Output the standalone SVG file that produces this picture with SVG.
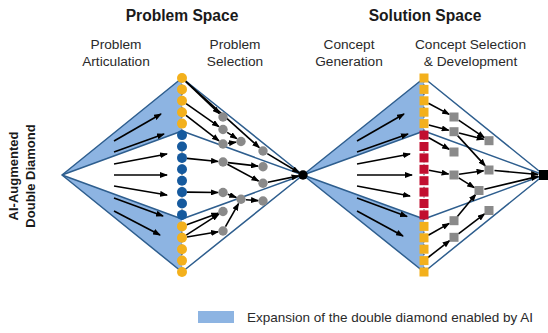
<svg xmlns="http://www.w3.org/2000/svg" width="548" height="333" viewBox="0 0 548 333">
<defs>
<style>
text{font-family:"Liberation Sans",Arial,sans-serif;fill:#1a1a1a}
.h{font-size:15.6px;font-weight:bold;text-anchor:middle}
.s{font-size:13.7px;text-anchor:middle;fill:#2a2a2a}
.v{font-size:13px;font-weight:bold;text-anchor:middle}
.lg{font-size:13.5px;fill:#2a2a2a}
.fill{fill:#8db4e2;stroke:none}
.edge{fill:none;stroke:#2e5e8e;stroke-width:1.5;stroke-linejoin:round}
.ar{fill:none;stroke:#000;stroke-width:1.6;marker-end:url(#ah)}
.y{fill:#f3b01c}
.b{fill:#165a9e}
.r{fill:#c20f2f}
.g{fill:#8a8a8a}
.col{stroke:#333;stroke-width:1;stroke-dasharray:1.2 2}
</style>
<marker id="ah" markerWidth="8" markerHeight="6" refX="7" refY="3" orient="auto" markerUnits="userSpaceOnUse"><path d="M0,0 L8,3 L0,6 z" fill="#000"/></marker>
</defs>

<g id="titles">
<text class="h" x="182" y="21">Problem Space</text>
<text class="h" x="425" y="21">Solution Space</text>
<text class="s" x="116" y="49">Problem</text>
<text class="s" x="116" y="65.5">Articulation</text>
<text class="s" x="235" y="49">Problem</text>
<text class="s" x="235" y="65.5">Selection</text>
<text class="s" x="349" y="49">Concept</text>
<text class="s" x="349" y="65.5">Generation</text>
<text class="s" x="470.5" y="49">Concept Selection</text>
<text class="s" x="470.5" y="65.5">&amp; Development</text>
<text class="v" transform="translate(18.3,176) rotate(-90)">AI-Augmented</text>
<text class="v" transform="translate(35,176) rotate(-90)">Double Diamond</text>
</g>

<g id="diamond1">
<polygon class="fill" points="62,175 182,78 182,131"/>
<polygon class="fill" points="62,175 182,272 182,219"/>
<polygon class="edge" points="62,175 182,78 303,175 182,272"/>
<polyline class="edge" points="62,175 182,131 303,175"/>
<polyline class="edge" points="62,175 182,219 303,175"/>
</g>
<g id="diamond2">
<polygon class="fill" points="303,175 424,78 424,131"/>
<polygon class="fill" points="303,175 424,272 424,219"/>
<polygon class="edge" points="303,175 424,78 544,175 424,272"/>
<polyline class="edge" points="303,175 424,131 544,175"/>
<polyline class="edge" points="303,175 424,219 544,175"/>
</g>

<g id="connectors">
<path class="ar" d="M114,141 L161,114"/>
<path class="ar" d="M114,152 L164,134"/>
<path class="ar" d="M114,164 L167,154"/>
<path class="ar" d="M114,175 L167,175"/>
<path class="ar" d="M114,186 L167,195"/>
<path class="ar" d="M114,198 L163,216"/>
<path class="ar" d="M114,211 L160,235"/>

<path class="ar" d="M357,141 L404,114"/>
<path class="ar" d="M357,152 L408,134"/>
<path class="ar" d="M357,164 L410,154"/>
<path class="ar" d="M357,175 L412,175"/>
<path class="ar" d="M357,186 L410,196"/>
<path class="ar" d="M357,198 L407,216.5"/>
<path class="ar" d="M357,211 L403,236"/>

<path class="ar" d="M185.6,81.4 L219.4,113.6"/>
<path class="ar" d="M185.7,81.3 L259.3,147.6"/>
<path class="ar" d="M186.1,103.7 L218.9,126.6"/>
<path class="ar" d="M186,115.3 L219,140.9"/>
<path class="ar" d="M227.2,132.3 L236.8,138.7"/>
<path class="ar" d="M228,143.3 L236,142.2"/>
<path class="ar" d="M267.3,153.6 L299.1,172.7"/>
<path class="ar" d="M187,158.4 L218,161.5"/>
<path class="ar" d="M228,162.6 L258,166.1"/>
<path class="ar" d="M227.4,164.3 L258.6,181"/>
<path class="ar" d="M267.9,182.3 L298.6,175.9"/>
<path class="ar" d="M187,192.1 L218,192.5"/>
<path class="ar" d="M227.7,194.3 L236.3,197.5"/>
<path class="ar" d="M246,199.7 L258,200.6"/>
<path class="ar" d="M186.7,224.7 L218.3,213.2"/>
<path class="ar" d="M186.2,235.1 L218.8,214.2"/>
<path class="ar" d="M187,237 L218,231.8"/>
<path class="ar" d="M225.5,226.7 L238.5,203.6"/>

<path class="ar" d="M428.4,103.2 L449.2,114.4"/>
<path class="ar" d="M428.8,124.9 L448.7,130.3"/>
<path class="ar" d="M428.4,137.5 L449.2,149.3"/>
<path class="ar" d="M458.6,120.1 L484.4,137.6"/>
<path class="ar" d="M459,133 L483.7,139.3"/>
<path class="ar" d="M457.4,135.4 L485.3,165.9"/>
<path class="ar" d="M429,170.2 L448.6,174"/>
<path class="ar" d="M459,174.3 L483.6,170.8"/>
<path class="ar" d="M458.7,177.9 L474.3,187.6"/>
<path class="ar" d="M494.5,170.5 L538,174.5"/>
<path class="ar" d="M484.4,189.2 L538.2,176.4"/>
<path class="ar" d="M457.2,216.8 L475.8,194.3"/>
<path class="ar" d="M458.4,233.9 L484.6,213.9"/>
<path class="ar" d="M428.3,235.3 L449.2,223.4"/>
<path class="ar" d="M428,257.5 L449.7,240.6"/>
</g>

<g id="column1">
<line class="col" x1="182" y1="78" x2="182" y2="272"/>
<circle class="y" cx="182" cy="78" r="5"/>
<circle class="y" cx="182" cy="89.4" r="5"/>
<circle class="y" cx="182" cy="100.8" r="5"/>
<circle class="y" cx="182" cy="112.2" r="5"/>
<circle class="y" cx="182" cy="123.6" r="5"/>
<circle class="b" cx="182" cy="135.1" r="5"/>
<circle class="b" cx="182" cy="146.5" r="5"/>
<circle class="b" cx="182" cy="157.9" r="5"/>
<circle class="b" cx="182" cy="169.3" r="5"/>
<circle class="b" cx="182" cy="180.7" r="5"/>
<circle class="b" cx="182" cy="192.1" r="5"/>
<circle class="b" cx="182" cy="203.5" r="5"/>
<circle class="b" cx="182" cy="214.9" r="5"/>
<circle class="y" cx="182" cy="226.4" r="5"/>
<circle class="y" cx="182" cy="237.8" r="5"/>
<circle class="y" cx="182" cy="249.2" r="5"/>
<circle class="y" cx="182" cy="260.6" r="5"/>
<circle class="y" cx="182" cy="272" r="5"/>
</g>

<g id="selection1">
<circle class="g" cx="223" cy="117" r="4.7"/>
<circle class="g" cx="223" cy="129.5" r="4.7"/>
<circle class="g" cx="223" cy="144" r="4.7"/>
<circle class="g" cx="241" cy="141.5" r="4.7"/>
<circle class="g" cx="263" cy="151" r="4.7"/>
<circle class="g" cx="223" cy="162" r="4.7"/>
<circle class="g" cx="263" cy="166.7" r="4.7"/>
<circle class="g" cx="263" cy="183.3" r="4.7"/>
<circle class="g" cx="223" cy="192.5" r="4.7"/>
<circle class="g" cx="241" cy="199.3" r="4.7"/>
<circle class="g" cx="263" cy="201" r="4.7"/>
<circle class="g" cx="223" cy="211.5" r="4.7"/>
<circle class="g" cx="223" cy="231" r="4.7"/>
</g>
<g id="problem-point"><circle cx="303" cy="175" r="4.7" fill="#000"/></g>

<g id="column2">
<line class="col" x1="424" y1="78" x2="424" y2="272"/>
<rect class="y" x="419.5" y="73.5" width="9" height="9"/>
<rect class="y" x="419.5" y="84.9" width="9" height="9"/>
<rect class="y" x="419.5" y="96.3" width="9" height="9"/>
<rect class="y" x="419.5" y="107.7" width="9" height="9"/>
<rect class="y" x="419.5" y="119.1" width="9" height="9"/>
<rect class="r" x="419.5" y="130.6" width="9" height="9"/>
<rect class="r" x="419.5" y="142" width="9" height="9"/>
<rect class="r" x="419.5" y="153.4" width="9" height="9"/>
<rect class="r" x="419.5" y="164.8" width="9" height="9"/>
<rect class="r" x="419.5" y="176.2" width="9" height="9"/>
<rect class="r" x="419.5" y="187.6" width="9" height="9"/>
<rect class="r" x="419.5" y="199" width="9" height="9"/>
<rect class="r" x="419.5" y="210.4" width="9" height="9"/>
<rect class="y" x="419.5" y="221.9" width="9" height="9"/>
<rect class="y" x="419.5" y="233.3" width="9" height="9"/>
<rect class="y" x="419.5" y="244.7" width="9" height="9"/>
<rect class="y" x="419.5" y="256.1" width="9" height="9"/>
<rect class="y" x="419.5" y="267.5" width="9" height="9"/>
</g>

<g id="selection2">
<rect class="g" x="449.5" y="112.5" width="9" height="9"/>
<rect class="g" x="449.5" y="127.2" width="9" height="9"/>
<rect class="g" x="449.5" y="147.5" width="9" height="9"/>
<rect class="g" x="484.5" y="136.2" width="9" height="9"/>
<rect class="g" x="449.5" y="170.5" width="9" height="9"/>
<rect class="g" x="484.5" y="165.5" width="9" height="9"/>
<rect class="g" x="474.5" y="186" width="9" height="9"/>
<rect class="g" x="484.5" y="206" width="9" height="9"/>
<rect class="g" x="449.5" y="216.2" width="9" height="9"/>
<rect class="g" x="449.5" y="232.8" width="9" height="9"/>
</g>
<g id="solution-point"><rect x="539" y="170" width="10" height="10" fill="#000"/></g>

<g id="legend">
<rect x="198" y="311" width="36" height="12" fill="#8db4e2"/>
<text class="lg" x="247" y="322">Expansion of the double diamond enabled by AI</text>
</g>
</svg>
